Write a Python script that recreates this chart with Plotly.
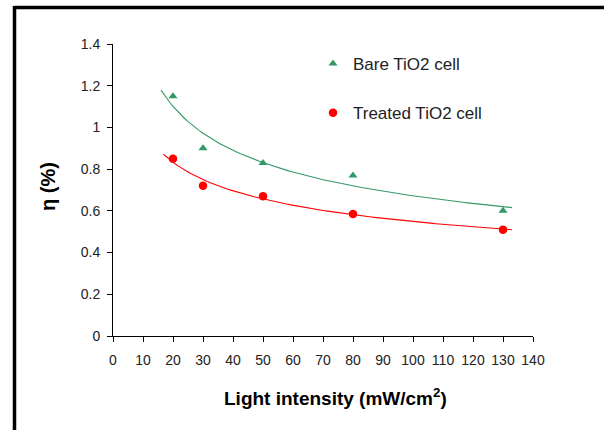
import numpy as np
import plotly.graph_objects as go

# Data
intensity = [20, 30, 50, 80, 130]
bare_eff = [1.15, 0.90, 0.83, 0.77, 0.60]
treated_eff = [0.85, 0.72, 0.67, 0.585, 0.51]
series_names = ["Bare TiO2 cell", "Treated TiO2 cell"]
x_ticks = list(range(0, 141, 10))
y_ticks = [0, 0.2, 0.4, 0.6, 0.8, 1, 1.2, 1.4]
y_tick_text = ["0", "0.2", "0.4", "0.6", "0.8", "1", "1.2", "1.4"]

GREEN = "#339966"
RED = "#FF0000"

# Power-law trendlines (like Excel's power trendline), fit in log space
def power_fit(x, y, x0, x1):
    b, lna = np.polyfit(np.log(x), np.log(y), 1)
    xs = np.linspace(x0, x1, 120)
    return xs, np.exp(lna) * xs ** b

fig = go.Figure()

gx, gy = power_fit(intensity, bare_eff, 16, 133)
rx, ry = power_fit(intensity, treated_eff, 16.8, 133)

fig.add_trace(go.Scatter(x=gx, y=gy, mode="lines", line=dict(color=GREEN, width=1.1),
                         showlegend=False, hoverinfo="skip"))
fig.add_trace(go.Scatter(x=rx, y=ry, mode="lines", line=dict(color=RED, width=1.1),
                         showlegend=False, hoverinfo="skip"))
fig.add_trace(go.Scatter(x=intensity, y=bare_eff, mode="markers", name=series_names[0],
                         legendgroup="a",
                         marker=dict(symbol="triangle-up", color=GREEN, size=8)))
fig.add_trace(go.Scatter(x=intensity, y=treated_eff, mode="markers", name=series_names[1],
                         legendgroup="b",
                         marker=dict(symbol="circle", color=RED, size=8.5)))

L, R, T, B = 113, 533, 44, 336
W, H = 604, 430

def px(x):
    return (x - L) / (R - L)

def py(y):
    return (B - y) / (B - T)

FONT = "Arial, Liberation Sans"
axis_common = dict(showline=True, linecolor="black", linewidth=1, ticks="outside",
                   ticklen=5, tickcolor="black", showgrid=False, zeroline=False,
                   tickfont=dict(family=FONT, size=14, color="#222222"),
                   mirror=False)

fig.update_layout(
    width=W, height=H,
    margin=dict(l=L, r=W - R, t=T, b=H - B, pad=0),
    paper_bgcolor="white", plot_bgcolor="white",
    xaxis=dict(range=[0, 140], tickvals=x_ticks, ticklabelstandoff=6, **axis_common),
    yaxis=dict(range=[0, 1.4], tickvals=y_ticks, ticktext=y_tick_text,
               ticklabelstandoff=4, **axis_common),
    legend=dict(x=px(313), y=py(46), xanchor="left", yanchor="top",
                font=dict(family=FONT, size=17, color="#222222"),
                bgcolor="rgba(0,0,0,0)", traceorder="grouped", tracegroupgap=24,
                itemwidth=30),
    showlegend=True,
    annotations=[
        dict(text="<b>Light intensity (mW/cm<sup>2</sup>)</b>", x=px(335.5), y=py(397),
             xref="paper", yref="paper", showarrow=False, xanchor="center", yanchor="middle",
             font=dict(family=FONT, size=19, color="black")),
        dict(text="<b>η (%)</b>", x=px(48), y=py(187), xref="paper", yref="paper",
             showarrow=False, textangle=-90, xanchor="center", yanchor="middle",
             font=dict(family=FONT, size=20, color="black")),
    ],
    shapes=[
        dict(type="line", xref="paper", yref="paper", x0=px(14.5), x1=px(620),
             y0=py(7.5), y1=py(7.5), line=dict(color="black", width=3.5)),
        dict(type="line", xref="paper", yref="paper", x0=px(14.5), x1=px(14.5),
             y0=py(6), y1=py(440), line=dict(color="black", width=3.5)),
    ],
)

fig.write_html("out.html", config={"displayModeBar": False},
               post_script="document.body.style.margin='0';document.body.style.overflow='hidden';")
